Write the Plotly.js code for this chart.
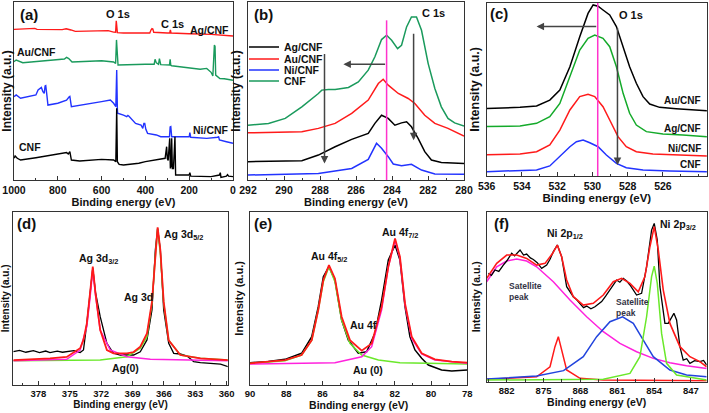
<!DOCTYPE html>
<html>
<head>
<meta charset="utf-8">
<script src="https://cdn.plot.ly/plotly-3.0.1.min.js"></script>
<style>html,body{margin:0;padding:0;background:#fff}#chart{width:709px;height:413px}</style>
</head>
<body>
<div id="chart"></div>
<script>
// ---------------- Panel (a): survey spectra ----------------
const aE_Ag = [1000, 980, 905, 895, 850, 780, 762, 752, 740, 720, 600, 570, 545, 536, 533, 530, 528, 500, 380, 374, 370, 366, 362, 300, 289, 286, 283, 200, 100, 0];
const aI_Ag = [84.6, 84.8, 85.2, 84.6, 84.5, 84.5, 85.0, 84.8, 84.3, 83.5, 83.7, 83.9, 83.1, 83.0, 89.5, 83.0, 82.8, 82.6, 82.6, 84.4, 85.0, 84.8, 83.0, 82.6, 82.6, 84.3, 82.6, 82.2, 81.8, 80.9];
const aE_Au = [1000, 990, 960, 900, 800, 770, 760, 750, 735, 700, 600, 545, 536, 532, 528, 525, 400, 360, 356, 350, 340, 336, 330, 290, 287, 284, 280, 200, 150, 120, 100, 92, 88, 85, 82, 79, 60, 40, 0];
const aI_Au = [66.5, 67.4, 65.9, 66.5, 67.4, 68.0, 68.9, 68.2, 66.3, 66.5, 67.0, 66.3, 65.5, 78.7, 65.0, 64.6, 65.0, 65.0, 67.8, 65.8, 65.0, 68.2, 64.8, 64.6, 67.8, 64.4, 64.2, 63.0, 62.2, 62.7, 60.5, 58.4, 75.8, 75.8, 75.0, 58.9, 57.0, 56.9, 56.0];
const aE_Ni = [1000, 990, 970, 930, 900, 890, 880, 875, 868, 862, 858, 855, 850, 845, 800, 760, 748, 745, 738, 700, 600, 560, 545, 535, 531, 528, 527, 500, 485, 480, 475, 445, 420, 412, 407, 403, 398, 390, 350, 330, 290, 287, 284, 280, 200, 197, 193, 120, 70, 66, 62, 30, 0];
const aI_Ni = [46.8, 47.8, 45.9, 46.8, 47.8, 50.6, 51.5, 52.0, 49.6, 48.7, 52.8, 53.0, 47.8, 42.1, 43.1, 44.9, 46.8, 47.0, 41.2, 41.9, 44.0, 44.9, 43.1, 41.2, 61.8, 40.0, 37.5, 36.5, 35.6, 36.3, 35.8, 31.8, 30.9, 29.0, 31.8, 31.8, 28.5, 26.2, 25.3, 24.3, 24.3, 29.8, 30.0, 24.3, 24.3, 26.6, 24.0, 23.4, 24.0, 24.5, 22.5, 21.5, 20.6];
const aE_CNF = [1000, 995, 985, 970, 900, 800, 770, 760, 752, 745, 738, 700, 600, 545, 535, 532, 531, 528, 520, 500, 430, 400, 320, 310, 303, 300, 296, 292, 289, 286, 283, 280, 277, 272, 268, 265, 262, 258, 200, 197, 193, 100, 62, 58, 55, 30, 25, 20, 0];
const aI_CNF = [12.2, 13.5, 12.2, 11.2, 12.5, 14.4, 15.0, 15.4, 14.6, 15.9, 11.2, 10.7, 11.6, 11.2, 10.3, 40.3, 40.3, 10.3, 8.8, 8.4, 9.4, 10.3, 11.8, 12.2, 18.7, 12.0, 11.0, 23.4, 23.4, 6.5, 8.0, 23.4, 6.5, 6.5, 24.3, 24.3, 2.8, 2.8, 2.8, 4.1, 2.2, 1.9, 2.8, 4.1, 1.5, 2.2, 3.0, 2.2, 1.9];

// ---------------- Panel (b): C 1s ----------------
const bE_Ag = [292, 289.01, 288.09, 287.16, 286.24, 285.32, 284.95, 284.58, 284.21, 283.84, 283.47, 283.19, 282.92, 282.55, 282.18, 281.81, 281.26, 280];
const bI_Ag = [10.3, 10.8, 14.0, 18.7, 22.8, 26.2, 31.8, 36.4, 34.6, 30.8, 32.1, 32.7, 29.9, 23.4, 15.9, 11.2, 9.9, 9.3];
const bE_Au = [292, 289.01, 288.09, 287.16, 286.24, 285.32, 284.76, 284.49, 284.21, 283.65, 283.10, 282.73, 282.18, 281.62, 280.89, 280];
const bI_Au = [26.5, 27.1, 29.0, 31.8, 37.4, 44.9, 54.2, 56.6, 53.3, 48.6, 45.8, 43.0, 36.4, 31.8, 29.0, 24.7];
const bE_Ni = [292, 288.09, 286.24, 285.32, 284.86, 284.58, 284.21, 283.93, 283.47, 282.92, 282.36, 281.62, 280];
const bI_Ni = [2.8, 3.7, 6.5, 11.6, 20.6, 17.8, 13.1, 9.0, 8.0, 8.8, 5.6, 3.4, 3.2];
const bE_CNF = [292, 290.86, 289.93, 289.01, 288.09, 287.9, 287.53, 287.16, 286.42, 285.87, 285.32, 284.95, 284.58, 284.30, 284.02, 283.69, 283.47, 283.19, 282.92, 282.64, 282.36, 281.99, 281.62, 281.26, 280.89, 280.52, 280];
const bI_CNF = [30.8, 31.8, 34.6, 41.1, 48.6, 50.5, 50.8, 50.8, 52.0, 55.1, 61.7, 69.2, 78.9, 81.3, 78.5, 73.8, 75.7, 86.0, 91.6, 91.6, 84.1, 65.4, 51.4, 41.1, 34.6, 32.1, 30.3];
const bRefLine = 284.3;

// ---------------- Panel (c): O 1s ----------------
const cE_Au = [536, 534.11, 533.17, 532.42, 531.85, 531.28, 530.72, 530.25, 529.96, 529.68, 529.40, 529.02, 528.64, 528.26, 527.89, 527.51, 527.13, 526.75, 526.19, 525.25, 523.51];
const cI_Au = [39.0, 39.6, 40.4, 43.8, 49.6, 63.0, 80.4, 93.8, 98.7, 98.0, 95.8, 92.9, 86.2, 74.6, 63.0, 53.5, 45.8, 41.5, 39.6, 38.8, 37.7];
const cE_Ag = [536, 534.11, 533.17, 532.42, 531.85, 531.28, 530.72, 530.25, 529.87, 529.40, 529.02, 528.64, 528.26, 527.89, 527.51, 526.94, 526.0, 524.87, 523.51];
const cI_Ag = [28.5, 28.8, 30.4, 34.2, 41.9, 57.3, 72.7, 79.4, 81.3, 79.4, 74.6, 63.0, 47.7, 36.2, 29.4, 25.6, 24.2, 23.7, 22.7];
const cE_Ni = [536, 534.11, 533.17, 532.42, 531.85, 531.28, 530.72, 530.25, 529.87, 529.40, 529.02, 528.55, 528.08, 527.51, 526.57, 524.87, 523.51];
const cI_Ni = [12.3, 12.7, 14.0, 17.9, 26.5, 38.1, 45.8, 47.1, 45.8, 40.0, 32.3, 22.7, 16.9, 14.0, 12.7, 12.1, 11.5];
const cE_CNF = [536, 534.11, 533.17, 532.42, 531.85, 531.28, 530.91, 530.53, 530.15, 529.68, 529.21, 528.64, 528.08, 527.13, 525.62, 523.51];
const cI_CNF = [2.5, 2.9, 3.5, 5.8, 11.2, 16.9, 19.8, 20.8, 19.2, 16.9, 12.1, 7.3, 4.8, 3.5, 2.9, 2.5];
const cRefLine = 529.7;

// ---------------- Panel (d): Ag 3d ----------------
const dE_data = [380.4, 379.8, 379.2, 378.48, 377.9, 377.3, 376.89, 376.2, 375.7, 375.29, 374.6, 374.01, 373.69, 373.37, 373.05, 372.80, 372.54, 372.09, 371.45, 370.82, 370.18, 369.54, 368.90, 368.26, 367.62, 367.14, 366.82, 366.60, 366.34, 366.02, 365.54, 365.06, 364.43, 363.79, 363.15, 362.51, 361.87, 361.23, 360.59, 359.86];
const dI_data = [19.2, 20.0, 18.9, 19.8, 18.7, 19.6, 18.7, 19.5, 18.9, 19.2, 19.8, 18.7, 20.2, 35.6, 52.0, 67.3, 53.5, 39.4, 24.0, 18.3, 17.3, 17.3, 17.3, 19.2, 26.0, 43.3, 77.9, 90.4, 77.9, 43.3, 24.0, 18.3, 17.9, 16.7, 13.5, 12.9, 12.5, 12.5, 12.1, 10.6];
const dE_fit = [380.4, 378.48, 376.89, 375.29, 374.01, 373.69, 373.37, 373.05, 372.80, 372.54, 372.09, 371.45, 370.82, 369.54, 368.90, 368.26, 367.62, 367.14, 366.82, 366.60, 366.34, 366.02, 365.54, 364.43, 362.51, 359.86];
const dI_fit = [14.4, 14.8, 15.4, 16.2, 21.2, 26.0, 35.6, 53.8, 68.3, 52.9, 31.7, 20.2, 18.3, 18.3, 19.0, 22.1, 29.8, 48.1, 75.0, 91.0, 77.9, 48.1, 25.8, 17.3, 15.4, 14.4];
const dE_52 = [380.4, 372.09, 369.54, 368.26, 367.62, 367.14, 366.82, 366.60, 366.34, 366.02, 365.54, 364.43, 362.51, 359.86];
const dI_52 = [14.0, 14.4, 16.3, 21.2, 27.9, 47.3, 74.2, 90.0, 75.8, 47.3, 25.8, 17.3, 15.4, 14.4];
const dE_32 = [380.4, 375.29, 374.01, 373.37, 373.05, 372.80, 372.54, 372.09, 371.13, 369.54, 367.30, 359.86];
const dI_32 = [14.0, 14.8, 20.2, 33.7, 51.0, 66.7, 51.9, 31.7, 20.2, 16.3, 14.8, 14.0];

// ---------------- Panel (e): Au 4f ----------------
const eE_data = [90, 88.99, 88.07, 87.15, 86.59, 86.23, 85.95, 85.64, 85.31, 84.94, 84.57, 84.02, 83.56, 83.10, 82.73, 82.36, 81.99, 81.72, 81.44, 81.17, 80.89, 80.52, 80.15, 79.42, 78.86, 78];
const eI_data = [12.9, 13.5, 14.8, 18.3, 27.9, 45.2, 62.5, 68.3, 60.6, 37.5, 25.9, 18.3, 19.2, 29.8, 49.0, 72.1, 80.8, 72.1, 45.2, 27.9, 20.2, 15.4, 11.5, 8.7, 8.1, 8.7];
const eE_fit = [90, 88.07, 87.15, 86.59, 86.23, 85.95, 85.64, 85.31, 84.94, 84.48, 83.83, 83.28, 82.73, 82.36, 81.99, 81.72, 81.44, 81.07, 80.52, 79.79, 78.86, 78];
const eI_fit = [12.5, 14.4, 17.3, 25.9, 43.3, 60.6, 69.2, 61.5, 39.4, 25.9, 19.8, 24.0, 45.2, 68.3, 84.6, 74.0, 47.1, 27.9, 18.3, 14.8, 13.5, 12.9];
const eE_52 = [90, 88.07, 87.15, 86.59, 86.23, 85.95, 85.64, 85.31, 84.94, 84.48, 83.83, 82.91, 81.72, 78];
const eI_52 = [12.5, 14.0, 17.3, 25.9, 43.3, 59.6, 68.3, 59.6, 37.5, 24.0, 17.3, 14.4, 12.9, 12.1];
const eE_72 = [90, 85.31, 83.83, 83.28, 82.73, 82.36, 81.99, 81.72, 81.44, 81.07, 80.52, 79.79, 78];
const eI_72 = [12.1, 12.9, 16.3, 22.1, 43.3, 68.3, 83.7, 73.1, 46.2, 26.9, 17.9, 14.4, 12.5];

// ---------------- Panel (f): Ni 2p ----------------
const fE_data = [885.48, 884.9, 884.22, 883.5, 882.64, 882.0, 881.05, 880.5, 879.47, 878.8, 878.21, 877.5, 876.94, 876.2, 875.36, 874.41, 873.77, 873.14, 872.38, 871.56, 870.61, 869.34, 868.7, 868.07, 867.4, 866.81, 866.0, 865.23, 863.96, 863.2, 862.38, 861.12, 860.5, 859.85, 859.2, 858.58, 857.32, 856.37, 855.42, 854.47, 853.97, 853.39, 852.89, 851.94, 851.31, 850.23, 849.72, 849.09, 848.46, 847.8, 847.19, 846.3, 845.30, 844.6, 844.0];
const fI_data = [63.7, 62.5, 65.7, 64.9, 68.6, 71.0, 75.5, 74.0, 77.5, 74.5, 75.1, 72.8, 71.9, 70.0, 66.7, 68.6, 72.0, 76.5, 80.4, 73.5, 55.9, 50.0, 48.2, 46.1, 43.6, 44.5, 42.9, 44.1, 47.1, 50.3, 53.9, 59.8, 58.5, 60.8, 59.2, 56.9, 51.0, 52.0, 67.6, 89.2, 93.1, 83.3, 55.9, 34.3, 34.3, 40.2, 36.3, 20.6, 12.7, 13.5, 10.8, 12.4, 11.8, 12.5, 9.8];
const fE_fit = [885.8, 883.9, 882.0, 880.1, 878.21, 876.31, 874.72, 873.27, 872.38, 871.56, 870.61, 869.34, 867.45, 865.55, 863.65, 861.75, 860.17, 858.58, 857.0, 855.74, 854.79, 853.97, 853.2, 852.25, 850.99, 849.09, 847.19, 845.30, 844.0];
const fI_fit = [60.8, 69.6, 74.5, 74.5, 72.5, 68.6, 69.6, 75.5, 80.4, 73.5, 59.8, 50.0, 45.1, 46.1, 51.0, 58.8, 60.8, 57.8, 52.9, 61.8, 79.4, 91.2, 77.5, 53.9, 34.3, 20.6, 14.7, 11.8, 8.8];
const fE_sat1 = [885.8, 883.9, 882.0, 880.1, 878.21, 876.31, 873.14, 869.98, 866.81, 863.65, 860.48, 857.32, 854.15, 850.99, 847.83, 844.0];
const fI_sat1 = [58.8, 67.6, 71.0, 72.2, 71.0, 67.6, 58.8, 48.0, 38.2, 29.4, 22.5, 17.6, 13.7, 11.2, 9.4, 7.8];
const fE_p12 = [885.8, 876.31, 873.77, 872.83, 872.19, 871.56, 870.61, 868.07, 863.65, 844.0];
const fI_p12 = [1.4, 2.9, 8.8, 20.6, 26.5, 18.6, 6.9, 2.0, 1.0, 0.6];
const fE_sat2 = [885.8, 876.31, 871.2, 867.45, 864.91, 862.38, 859.98, 857.95, 856.05, 854.15, 850.99, 847.83, 844.0];
const fI_sat2 = [1.6, 3.3, 6.5, 14.7, 26.5, 35.3, 38.2, 34.3, 24.5, 14.7, 6.9, 3.9, 2.9];
const fE_p32 = [885.8, 863.65, 858.58, 856.69, 855.42, 854.47, 853.97, 853.39, 852.57, 851.62, 849.72, 844.0];
const fI_p32 = [1.0, 1.4, 4.9, 14.7, 38.2, 61.8, 68.0, 57.8, 28.4, 10.8, 3.9, 1.0];

// ---------------- styling ----------------
const C = {black:'#000000', red:'#ff1a1a', blue:'#2233ff', teal:'#1a9a5c', green:'#14aa2a', lime:'#6ae82a', mag:'#ff22dd', fblue:'#2244dd'};
const FONT = 'Liberation Sans, Arial, Helvetica, sans-serif';

function tr(x, y, color, ax, width, name, legend) {
  const t = {x: x, y: y, type:'scatter', mode:'lines', line:{color: color, width: width || 1.5},
    xaxis: 'x' + (ax === 1 ? '' : ax), yaxis: 'y' + (ax === 1 ? '' : ax), hoverinfo:'skip', showlegend:false};
  if (name) { t.name = name; }
  if (legend) { t.showlegend = true; t.legend = legend; }
  return t;
}

const traces = [
  tr(aE_Ag, aI_Ag, C.red, 1, 1.4),
  tr(aE_Au, aI_Au, C.teal, 1, 1.4),
  tr(aE_Ni, aI_Ni, C.blue, 1, 1.4),
  tr(aE_CNF, aI_CNF, C.black, 1, 1.4),
  tr(bE_CNF, bI_CNF, C.teal, 2, 1.5, 'CNF', 'legend4'),
  tr(bE_Au, bI_Au, C.red, 2, 1.5, 'Au/CNF', 'legend2'),
  tr(bE_Ag, bI_Ag, C.black, 2, 1.5, 'Ag/CNF', 'legend'),
  tr(bE_Ni, bI_Ni, C.blue, 2, 1.5, 'Ni/CNF', 'legend3'),
  tr(cE_Au, cI_Au, C.black, 3, 1.5),
  tr(cE_Ag, cI_Ag, C.green, 3, 1.5),
  tr(cE_Ni, cI_Ni, C.red, 3, 1.5),
  tr(cE_CNF, cI_CNF, C.blue, 3, 1.5),
  tr(dE_data, dI_data, C.black, 4, 1.3),
  tr(dE_52, dI_52, C.lime, 4, 1.5),
  tr(dE_32, dI_32, C.mag, 4, 1.5),
  tr(dE_fit, dI_fit, C.red, 4, 1.8),
  tr(eE_data, eI_data, C.black, 5, 1.5),
  tr(eE_52, eI_52, C.lime, 5, 1.5),
  tr(eE_72, eI_72, C.mag, 5, 1.5),
  tr(eE_fit, eI_fit, C.red, 5, 1.8),
  tr(fE_sat1, fI_sat1, C.mag, 6, 1.5),
  tr(fE_p12, fI_p12, C.red, 6, 1.5),
  tr(fE_sat2, fI_sat2, C.fblue, 6, 1.5),
  tr(fE_p32, fI_p32, C.lime, 6, 1.5),
  tr(fE_data, fI_data, C.black, 6, 1.3),
  tr(fE_fit, fI_fit, C.red, 6, 1.6)
];

const W = 709, H = 413;
function xd(l, r) { return [l / W, r / W]; }
function yd(t, b) { return [1 - b / H, 1 - t / H]; }

function xax(ax, dom, range, tk, minor, tickSize, titleSize, standoff) {
  const o = {domain: dom, range: range, anchor: 'y' + (ax === 1 ? '' : ax), showline:true, mirror:true,
    linecolor:'#333', linewidth:1, ticks:'inside', ticklen:4, tickwidth:1, tickcolor:'#333',
    minor:{ticks:'inside', ticklen:2.5, tickwidth:1, tickcolor:'#333', dtick: minor, showgrid:false},
    tickfont:{size: tickSize, family: FONT, weight:'bold', color:'#111'},
    title:{text:'Binding energy (eV)', font:{size: titleSize, family: FONT, weight:'bold', color:'#111'}, standoff: standoff},
    showgrid:false, zeroline:false, automargin:false};
  if (tk.vals) { o.tickmode = 'array'; o.tickvals = tk.vals; } else { o.tick0 = tk.tick0; o.dtick = tk.dtick; }
  return o;
}
function yax(ax, dom, titleSize, standoff) {
  return {domain: dom, range:[0, 100], anchor: 'x' + (ax === 1 ? '' : ax), showline:true, mirror:true,
    linecolor:'#333', linewidth:1, ticks:'', showticklabels:false, showgrid:false, zeroline:false, automargin:false,
    title:{text:'Intensity (a.u.)', font:{size: titleSize, family: FONT, weight:'bold', color:'#111'}, standoff: standoff}};
}

function ann(ax, x, y, text, size, xanchor, color, extra) {
  const a = {xref: 'x' + (ax === 1 ? '' : ax), yref: 'y' + (ax === 1 ? '' : ax), x: x, y: y, text: text, showarrow:false,
    xanchor: xanchor || 'center', yanchor:'middle', font:{size: size, family: FONT, weight:'bold', color: color || '#111'}};
  return Object.assign(a, extra || {});
}
function arrow(ax, x, y, axv, ayv) {
  const s = (ax === 1 ? '' : ax);
  return {xref:'x' + s, yref:'y' + s, axref:'x' + s, ayref:'y' + s, x: x, y: y, ax: axv, ay: ayv, text:'',
    showarrow:true, arrowhead:2, arrowsize:1, arrowwidth:1.5, arrowcolor:'#444', standoff:0, startstandoff:0};
}

const legFont = {size: 10.5, family: FONT, weight:'bold', color:'#111'};
function leg(yPix) {
  return {x: 244 / W, y: 1 - yPix / H, xanchor:'left', yanchor:'middle', bgcolor:'rgba(0,0,0,0)', borderwidth:0,
    font: legFont, itemwidth:30, tracegroupgap:0};
}

const layout = {
  width: W, height: H, margin:{l:0, r:0, t:0, b:0}, paper_bgcolor:'#fff', plot_bgcolor:'#fff',
  font:{family: FONT, weight:'bold', color:'#111'},
  xaxis: xax(1, xd(14, 233), [1000, 0], {tick0:0, dtick:200}, 100, 10.5, 11, 1),
  yaxis: yax(1, yd(2, 180), 12, 3),
  xaxis2: xax(2, xd(248, 464), [292, 280], {tick0:280, dtick:2}, 1, 10.5, 11, 1),
  yaxis2: yax(2, yd(2, 180), 12, 3),
  xaxis3: xax(3, xd(486.7, 707), [536, 523.5], {vals:[536, 534, 532, 530, 528, 526]}, 1, 10.5, 11.5, 2),
  yaxis3: yax(3, yd(2.7, 176), 12.5, 3),
  xaxis4: xax(4, xd(13.3, 227.7), [380.4, 359.9], {tick0:360, dtick:3}, 1.5, 9.5, 10, 1),
  yaxis4: yax(4, yd(211.7, 385), 10, 3),
  xaxis5: xax(5, xd(250, 467.3), [90, 78], {tick0:78, dtick:2}, 1, 9.5, 10.5, 1),
  yaxis5: yax(5, yd(211.7, 385), 11, 3),
  xaxis6: xax(6, xd(486.7, 706.7), [885.8, 844.0], {tick0:847, dtick:7}, 3.5, 9.5, 10.5, 1),
  yaxis6: yax(6, yd(211.7, 381.7), 10.5, 3),
  legend: leg(47), legend2: leg(59), legend3: leg(70), legend4: leg(81),
  shapes: [
    {type:'line', xref:'x2', yref:'y2', x0: bRefLine, x1: bRefLine, y0: 0, y1: 89.7, line:{color:'#ff33cc', width:1.5}},
    {type:'line', xref:'x3', yref:'y3', x0: cRefLine, x1: cRefLine, y0: 0, y1: 100, line:{color:'#ff33cc', width:1.5}}
  ],
  annotations: [
    // (a)
    ann(1, 982, 92.7, '(a)', 15, 'left'),
    ann(1, 525, 93.3, 'O 1s', 11),
    ann(1, 274, 87.6, 'C 1s', 11),
    ann(1, 10, 84.3, 'Ag/CNF', 10.5, 'right'),
    ann(1, 995, 71.9, 'Au/CNF', 10.5, 'left'),
    ann(1, 10, 28.1, 'Ni/CNF', 10.5, 'right'),
    ann(1, 985, 18.5, 'CNF', 10.5, 'left'),
    // (b)
    ann(2, 291.8, 92.7, '(b)', 15, 'left'),
    ann(2, 281.67, 93.8, 'C 1s', 11),
    arrow(2, 286.7, 65, 284.3, 65),
    arrow(2, 287.75, 9.3, 287.75, 71.6),
    arrow(2, 282.8, 22.4, 282.8, 83),
    // (c)
    ann(3, 535.9, 94.0, '(c)', 15, 'left'),
    ann(3, 527.8, 92.9, 'O 1s', 11),
    ann(3, 523.7, 43.8, 'Au/CNF', 10, 'right'),
    ann(3, 523.7, 27.5, 'Ag/CNF', 10, 'right'),
    ann(3, 523.7, 16.0, 'Ni/CNF', 10, 'right'),
    ann(3, 523.7, 6.9, 'CNF', 10, 'right'),
    arrow(3, 533.17, 86.2, 529.7, 86.2),
    arrow(3, 528.58, 6.3, 528.58, 86.2),
    // (d)
    ann(4, 380.2, 93.3, '(d)', 15, 'left'),
    ann(4, 372.3, 72.5, 'Ag 3d<sub>3/2</sub>', 10.5),
    ann(4, 366.2, 86.5, 'Ag 3d<sub>5/2</sub>', 10.5, 'left'),
    ann(4, 368.4, 51, 'Ag 3d', 10.5),
    ann(4, 369.7, 9.6, 'Ag(0)', 10.5),
    // (e)
    ann(5, 89.9, 93.3, '(e)', 15, 'left'),
    ann(5, 85.64, 74, 'Au 4f<sub>5/2</sub>', 10.5),
    ann(5, 81.7, 87.9, 'Au 4f<sub>7/2</sub>', 10.5),
    ann(5, 83.74, 34.6, 'Au 4f', 10.5),
    ann(5, 83.46, 8.7, 'Au (0)', 10.5),
    // (f)
    ann(6, 884.85, 93.1, '(f)', 15, 'left'),
    ann(6, 870.9, 86.7, 'Ni 2p<sub>1/2</sub>', 10.5),
    ann(6, 849.4, 92.2, 'Ni 2p<sub>3/2</sub>', 10.5),
    ann(6, 881.9, 52.9, 'Satellite<br>peak', 8.5, 'left', '#333344', {align:'left'}),
    ann(6, 861.6, 43.9, 'Satellite<br>peak', 8.5, 'left', '#333344', {align:'left'})
  ]
};

Plotly.newPlot('chart', traces, layout, {staticPlot:true, displayModeBar:false});
</script>
</body>
</html>
